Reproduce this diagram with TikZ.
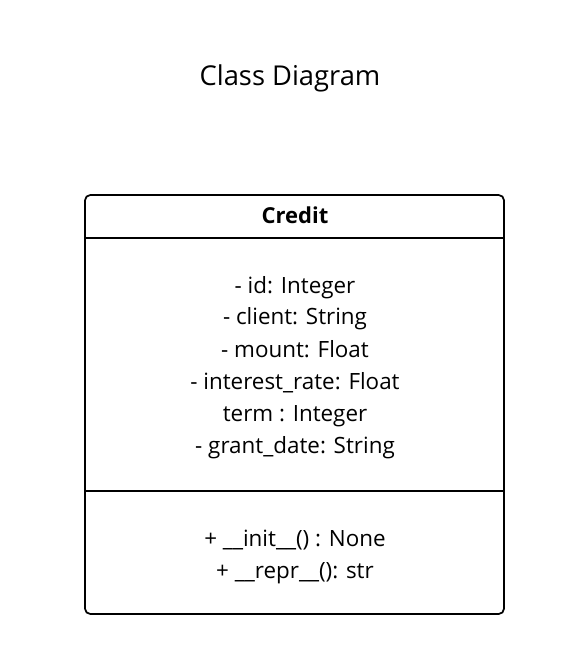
\documentclass[tikz,border=0pt]{standalone}
\usepackage{fontspec}
\setmainfont{Open Sans}
\begin{document}
\begin{tikzpicture}[x=0.75pt,y=-0.75pt,
  box/.style={draw=black,line width=1.3pt,rounded corners=4pt},
  sep/.style={draw=black,line width=1.3pt},
  txt/.style={font=\fontsize{16.8}{19}\selectfont,inner sep=0pt,anchor=center,text height=12pt,text depth=3pt},
  bold/.style={font=\fontsize{16.5}{19}\selectfont\bfseries,inner sep=0pt,anchor=center,text height=12pt,text depth=3pt},
  ttl/.style={font=\fontsize{20.5}{23}\selectfont,inner sep=0pt,anchor=center,text height=15pt,text depth=4pt}]
\useasboundingbox (0,0) rectangle (580,655);
\fill[white] (0,0) rectangle (580,655);
\node[ttl] (title) at (290,78) {Class Diagram};
\draw[box] (85,195) rectangle (504,614);
\coordinate (h1) at (85,238);
\coordinate (h2) at (504,238);
\coordinate (s1) at (85,491);
\coordinate (s2) at (504,491);
\draw[sep] (h1) -- (h2);
\draw[sep] (s1) -- (s2);
\node[bold] (name) at (295,218) {Credit};
\node[txt] (a1) at (295,287) {- id: Integer};
\node[txt] (a2) at (295,319) {- client: String};
\node[txt] (a3) at (295,351) {- mount: Float};
\node[txt] (a4) at (295,383) {- interest\_rate: Float};
\node[txt] (a5) at (295,415) {term : Integer};
\node[txt] (a6) at (295,447) {- grant\_date: String};
\node[txt] (m1) at (295,540) {+ \_\_init\_\_() : None};
\node[txt] (m2) at (295,572) {+ \_\_repr\_\_(): str};
\end{tikzpicture}
\end{document}
